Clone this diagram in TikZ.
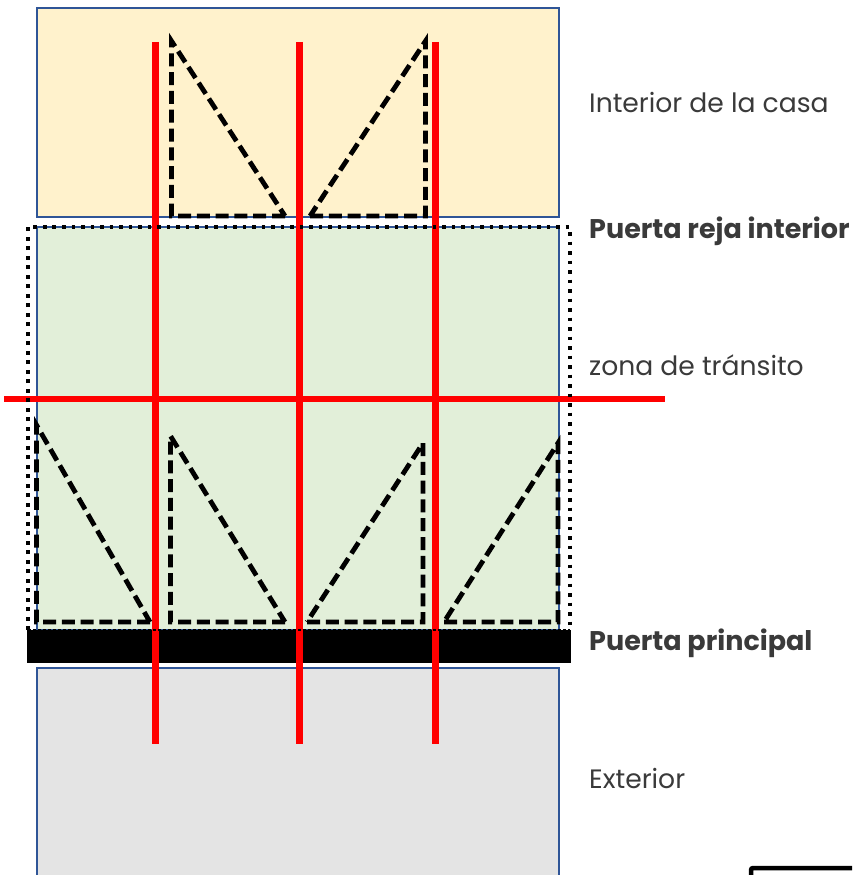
\documentclass[tikz,border=0pt]{standalone}
\usepackage{fontspec}
\setmainfont{Poppins}
\definecolor{zoneblue}{HTML}{2F5597}
\definecolor{houseFill}{HTML}{FFF2CC}
\definecolor{transitFill}{HTML}{E2EFD9}
\definecolor{outFill}{HTML}{E4E4E4}
\definecolor{labelInk}{HTML}{3A3A3A}
\tikzset{
  zonebox/.style={draw=zoneblue,line width=2pt},
  redbar/.style={draw=red,line width=7pt},
  swing/.style={draw=black,line width=4.8pt,dash pattern=on 13pt off 5.8pt,line join=miter,miter limit=20},
  fence/.style={draw=black,line width=4.3pt,dash pattern=on 3.8pt off 5.7pt},
  lbl/.style={anchor=base west,inner sep=0pt,text=labelInk,font=\fontsize{26.6}{30}\selectfont},
  lblb/.style={lbl,font=\fontsize{27}{30}\selectfont\bfseries},
}
\begin{document}
\begin{tikzpicture}[x=1pt,y=-1pt]
\useasboundingbox (0,0) rectangle (852,875);
\clip (0,0) rectangle (852,875);
% zones
\filldraw[zonebox,fill=houseFill] (36.5,8.5) rectangle (559,217);
\filldraw[zonebox,fill=transitFill] (36.5,227) rectangle (559,630);
\filldraw[zonebox,fill=outFill] (36.5,668) rectangle (559,885);
% door bar
\fill[black] (27,630) rectangle (570.5,662.5);
% red lines
\coordinate (v1t) at (155,42); \coordinate (v1b) at (155,744);
\coordinate (v2t) at (299,42); \coordinate (v2b) at (299,744);
\coordinate (v3t) at (435,42); \coordinate (v3b) at (435,744);
\coordinate (hl) at (4,399); \coordinate (hr) at (665,399);
\draw[redbar] (v1t) -- (v1b);
\draw[redbar] (v2t) -- (v2b);
\draw[redbar] (v3t) -- (v3b);
\draw[redbar,line width=6pt] (hl) -- (hr);
% door swings
\draw[swing] (285,216) -- (171.5,216) -- (171.5,41) -- (285,216);
\draw[swing] (310,216) -- (425.5,216) -- (425.5,41) -- (310,216);
\draw[swing] (150,622) -- (36.5,622) -- (36.5,425) -- (150,622);
\draw[swing] (285,622) -- (170.5,622) -- (170.5,436) -- (285,622);
\draw[swing] (307,622) -- (423,622) -- (423,443) -- (307,622);
\draw[swing] (444,622) -- (558,622) -- (558,443) -- (444,622);
% dotted outline
\draw[fence] (28,630) -- (28,227) -- (570,227) -- (570,630);
\draw[black,line width=1.5pt,densely dashed] (28,630) -- (570,630);
% labels
\node[lbl] (casa) at (589,112) {Interior de la casa};
\node[lblb] (reja) at (589,238) {Puerta reja interior};
\node[lbl] (zona) at (589,375) {zona de tránsito};
\node[lblb] (ppal) at (589,650) {Puerta principal};
\node[lbl] (ext) at (589,788) {Exterior};
% corner of the box at the lower right
\draw[black,line width=4.5pt,rounded corners=2pt] (751,885) -- (751,868) -- (860,868);
\end{tikzpicture}
\end{document}
